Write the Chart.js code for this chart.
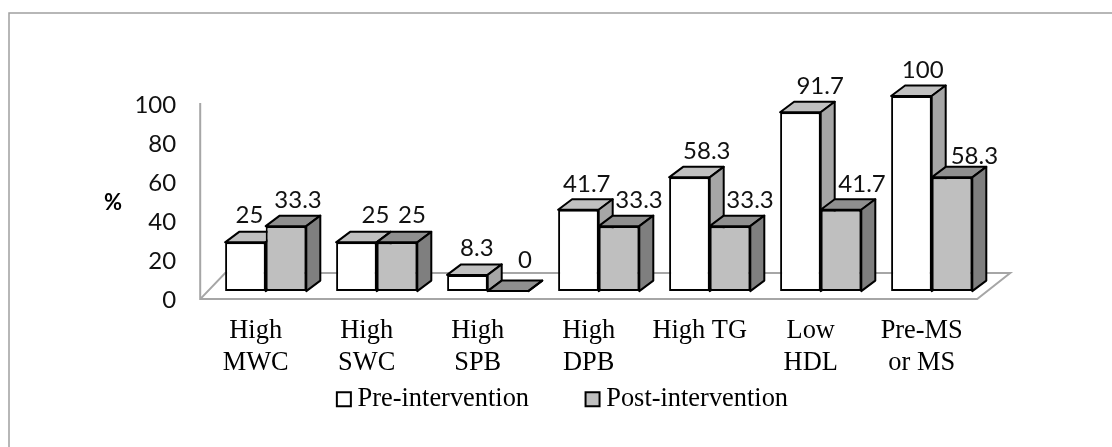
<!DOCTYPE html>
<html>
<head>
<meta charset="utf-8">
<title>Pre- and post-intervention</title>
<script src="https://cdn.jsdelivr.net/npm/chart.js@4"></script>
<style>
    html, body { margin: 0; padding: 0; background: #fff; }
    #wrap { position: relative; width: 1112px; height: 447px; }
</style>
</head>
<body>
<div id="wrap"><canvas id="chart"></canvas></div>
<script>
// Values
const categories = [['High', 'MWC'], ['High', 'SWC'], ['High', 'SPB'], ['High', 'DPB'], 'High TG', ['Low', 'HDL'], ['Pre-MS', 'or MS']];
const preValues = [25, 25, 8.3, 41.7, 58.3, 91.7, 100];
const postValues = [33.3, 25, 0, 33.3, 33.3, 41.7, 58.3];
const yTicks = [0, 20, 40, 60, 80, 100];

// Look of the fake 3D
const DEPTH_X = 14;
const DEPTH_Y = 10.5;
const FLOOR_SHIFT_X = 10;
const FLOOR_SHIFT_Y = 8;
const WALL = '#a6a6a6';

const faces = [
    { top: '#c0c0c0', side: '#a6a6a6' },
    { top: '#8f8f8f', side: '#7f7f7f' }
];

// The labels in the original were moved by hand, so each has its own nudge
const labelNudge = [
    [[4, -19], [19, -19], [9.4, -19], [8.4, -17.5], [17.4, -18], [19.7, -18], [11.3, -18]],
    [[12, -18.5], [15, -19], [17, -23], [20, -18.5], [20, -18.5], [21, -17.5], [22.4, -13.7]]
];

function line(ctx, points) {
    ctx.beginPath();
    points.forEach((p, i) => (i ? ctx.lineTo(p[0], p[1]) : ctx.moveTo(p[0], p[1])));
}

const scene = {
    id: 'scene',
    afterLayout(chart) {
        // legend padding is only wanted sideways, pull it back up under the labels
        chart.legend.top = 323;
        chart.legend.left += 44;
    },
    beforeDatasetsDraw(chart) {
        const { ctx, chartArea, scales } = chart;
        const left = chartArea.left - FLOOR_SHIFT_X;
        const right = chartArea.right - FLOOR_SHIFT_X;
        const front = scales.y.getPixelForValue(0) + FLOOR_SHIFT_Y;
        const back = front - 26;
        const wallTop = scales.y.getPixelForValue(100) + 7;

        ctx.save();
        // frame of the figure, only top and left show
        ctx.strokeStyle = '#a0a0a0';
        ctx.lineWidth = 1.5;
        line(ctx, [[9, 447], [9, 13], [1112, 13]]);
        ctx.stroke();

        ctx.strokeStyle = WALL;
        ctx.lineWidth = 2;
        line(ctx, [[left, wallTop], [left, front], [right, front], [right + 33, back], [left + 25, back], [left, front]]);
        ctx.stroke();

        ctx.fillStyle = '#000';
        ctx.font = 'bold 22px Lato';
        ctx.textAlign = 'center';
        ctx.textBaseline = 'middle';
        ctx.fillText('%', 113, 203);

        // top and side faces go first, Chart.js then lays the fronts over them
        ctx.strokeStyle = '#000';
        ctx.lineJoin = 'round';
        chart.data.datasets.forEach((ds, d) => {
            chart.getDatasetMeta(d).data.forEach(bar => {
                const l = bar.x - bar.width / 2;
                const r = bar.x + bar.width / 2;
                line(ctx, [[l, bar.y], [l + DEPTH_X, bar.y - DEPTH_Y], [r + DEPTH_X, bar.y - DEPTH_Y], [r, bar.y]]);
                ctx.closePath();
                ctx.fillStyle = faces[d].top;
                ctx.fill();
                ctx.stroke();
                line(ctx, [[r, bar.y], [r + DEPTH_X, bar.y - DEPTH_Y], [r + DEPTH_X, bar.base - DEPTH_Y], [r, bar.base]]);
                ctx.closePath();
                ctx.fillStyle = faces[d].side;
                ctx.fill();
                ctx.stroke();
            });
        });
        ctx.restore();
    },
    afterDatasetsDraw(chart) {
        const { ctx } = chart;
        ctx.save();
        ctx.fillStyle = '#111';
        ctx.font = '24px Lato';
        ctx.textAlign = 'center';
        ctx.textBaseline = 'alphabetic';
        chart.data.datasets.forEach((ds, d) => {
            chart.getDatasetMeta(d).data.forEach((bar, i) => {
                ctx.fillText(String(ds.data[i]), bar.x + labelNudge[d][i][0], bar.y + labelNudge[d][i][1]);
            });
        });
        ctx.restore();
    }
};

document.addEventListener('DOMContentLoaded', () => {
    new Chart(document.getElementById('chart'), {
        type: 'bar',
        data: {
            labels: categories,
            datasets: [
                { label: 'Pre-intervention', data: preValues, backgroundColor: '#ffffff' },
                { label: 'Post-intervention', data: postValues, backgroundColor: '#bfbfbf' }
            ]
        },
        options: {
            responsive: true,
            maintainAspectRatio: false,
            animation: false,
            layout: { padding: { left: 100.2, right: 124.8, top: 96, bottom: -33.5 } },
            datasets: {
                bar: {
                    borderColor: '#000',
                    borderWidth: 2,
                    borderSkipped: false,
                    categoryPercentage: 0.7315,
                    barPercentage: 1
                }
            },
            plugins: {
                tooltip: { enabled: false },
                legend: {
                    position: 'bottom',
                    labels: {
                        usePointStyle: true,
                        pointStyle: 'rect',
                        boxWidth: 1,
                        boxHeight: 14,
                        padding: 63,
                        color: '#000',
                        font: { family: "'Liberation Serif'", size: 26.4 }
                    }
                }
            },
            scales: {
                x: {
                    grid: { display: false },
                    border: { display: false },
                    afterFit: s => { s.height = 90; },
                    ticks: {
                        color: '#000',
                        autoSkip: false,
                        maxRotation: 0,
                        labelOffset: -10,
                        padding: 16.5,
                        font: { family: "'Liberation Serif'", size: 26.4, lineHeight: 1.2 }
                    }
                },
                y: {
                    min: 0,
                    max: 100,
                    grid: { display: false },
                    border: { display: false },
                    afterFit: s => { s.width = 110; },
                    afterBuildTicks: s => { s.ticks = yTicks.map(v => ({ value: v })); },
                    ticks: {
                        color: '#111',
                        labelOffset: 9,
                        padding: 26,
                        font: { family: 'Lato', size: 24 }
                    }
                }
            }
        },
        plugins: [scene]
    });
});
</script>
</body>
</html>
